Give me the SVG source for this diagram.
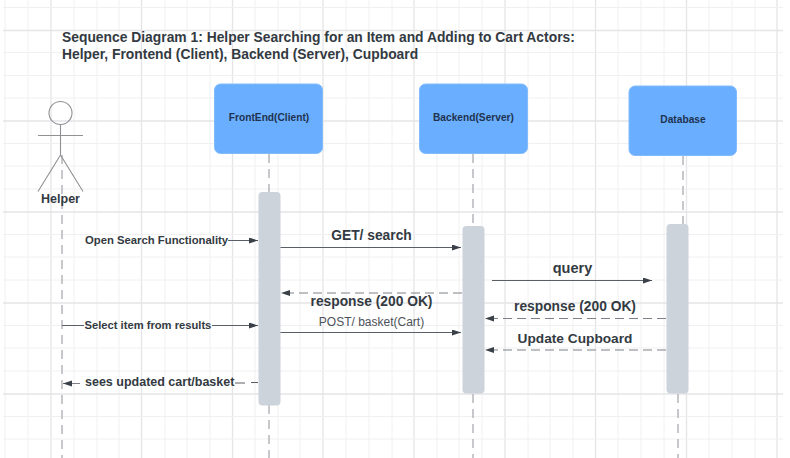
<svg xmlns="http://www.w3.org/2000/svg" width="790" height="458" viewBox="0 0 790 458">
<style>
text{font-family:"Liberation Sans",Arial,sans-serif;font-weight:700;fill:#333a42}
.gm{stroke:#f0f0f1;stroke-width:1}
.gM{stroke:#e5e5e7;stroke-width:1.3}
.life{stroke:#b4b6ba;stroke-width:1.5;stroke-dasharray:9 6;fill:none}
.box{fill:#6aaeff;stroke:#82bcff;stroke-width:1}
.act{fill:#ccd3db}
.boxt{font-size:10.200px;fill:#1f3350;text-anchor:middle}
.solid{stroke:#5a5f66;stroke-width:1;fill:none;marker-end:url(#a)}
.line{stroke:#5a5f66;stroke-width:1;fill:none}
.dash{stroke:#7d8187;stroke-width:1;stroke-dasharray:9 5;fill:none;marker-end:url(#a)}
.fig{stroke:#8f9194;stroke-width:1.1;fill:none}
</style>
<defs><marker id="a" markerUnits="userSpaceOnUse" markerWidth="10" markerHeight="8" refX="9" refY="3" orient="auto"><path d="M0 0L9 3L0 6z" fill="#3a4048"/></marker></defs>
<rect width="790" height="458" fill="#fff"/>
<g id="grid">
<path class="gm" d="M5 0V458M28 0V458M74 0V458M97 0V458M119 0V458M165 0V458M187 0V458M210 0V458M255 0V458M278 0V458M300 0V458M346 0V458M369 0V458M392 0V458M437 0V458M459 0V458M482 0V458M528 0V458M550 0V458M573 0V458M618 0V458M641 0V458M664 0V458M709 0V458M732 0V458M755 0V458"/>
<path class="gM" d="M51 0V458M141.500 0V458M232.500 0V458M323 0V458M414 0V458M505 0V458M595.500 0V458M686.500 0V458M777 0V458"/>
<path class="gm" d="M3 7.500H783M3 52.500H783M3 75.500H783M3 98H783M3 143.500H783M3 166H783M3 189H783M3 234.500H783M3 257H783M3 280H783M3 325.500H783M3 348H783M3 371H783M3 416.500H783M3 439H783"/>
<path class="gM" d="M3 30.500H783M3 121H783M3 212H783M3 303H783M3 394H783"/>
</g>
<text x="62" y="42" font-size="13.850px">Sequence Diagram 1: Helper Searching for an Item and Adding to Cart Actors:</text>
<text x="62" y="59" font-size="13.850px">Helper, Frontend (Client), Backend (Server), Cupboard</text>
<g id="connectors">
<path class="life" d="M62 155V458"/>
<path class="life" d="M269 154V192M269 405V458"/>
<path class="life" d="M473 154V226M473 394V458"/>
<path class="life" d="M683 156V224M678 394V458"/>
<path class="solid" d="M228 240.500H258"/>
<path class="solid" d="M280 247.500H461"/>
<path class="solid" d="M492 280.500H652"/>
<path class="dash" d="M462 293H281"/>
<path class="dash" d="M666 318.500H485"/>
<path class="line" d="M62 325.500H84"/>
<path class="solid" d="M212 325.500H258"/>
<path class="solid" d="M280 332.500H461"/>
<path class="dash" d="M666 350H485"/>
<path class="line" d="M235 383H245M251 382.500H258"/>
<path class="dash" d="M80 383.500H63"/>
</g>
<g id="helper">
<circle class="fig" cx="60.500" cy="113" r="11.500"/>
<path class="fig" d="M60.500 124.500V155M38 135.500H83M60.500 155L38 191.500M60.500 155L83 191.500"/>
<text x="60.500" y="203" font-size="12.500px" text-anchor="middle">Helper</text>
</g>
<g id="frontend">
<rect class="box" x="214.500" y="84" width="108" height="69.500" rx="6"/>
<text class="boxt" x="269" y="121">FrontEnd(Client)</text>
</g>
<g id="backend">
<rect class="box" x="419.500" y="84" width="108" height="69.500" rx="6"/>
<text class="boxt" x="473.500" y="121">Backend(Server)</text>
</g>
<g id="database">
<rect class="box" x="629" y="86" width="107.500" height="69.500" rx="6"/>
<text class="boxt" x="683" y="123">Database</text>
</g>
<g id="activations">
<rect class="act" x="258.500" y="192" width="22" height="213.500" rx="4"/>
<rect class="act" x="462.500" y="226" width="22" height="167.500" rx="4"/>
<rect class="act" x="666.500" y="224" width="22" height="169.500" rx="4"/>
</g>
<g id="labels">
<text x="85" y="243.500" font-size="11.300px">Open Search Functionality</text>
<text x="371.500" y="240" font-size="13.800px" text-anchor="middle">GET/ search</text>
<text x="572.500" y="272.500" font-size="14.500px" text-anchor="middle">query</text>
<text x="371.500" y="306" font-size="13.800px" text-anchor="middle">response (200 OK)</text>
<text x="575" y="311" font-size="13.800px" text-anchor="middle">response (200 OK)</text>
<text x="84.500" y="329" font-size="11.200px">Select item from results</text>
<text x="371.500" y="326" font-size="12px" text-anchor="middle" style="font-weight:400;fill:#4d5258">POST/ basket(Cart)</text>
<text x="575" y="343" font-size="13.700px" text-anchor="middle">Update Cupboard</text>
<text x="85" y="385.500" font-size="12.500px">sees updated cart/basket</text>
</g>
</svg>
